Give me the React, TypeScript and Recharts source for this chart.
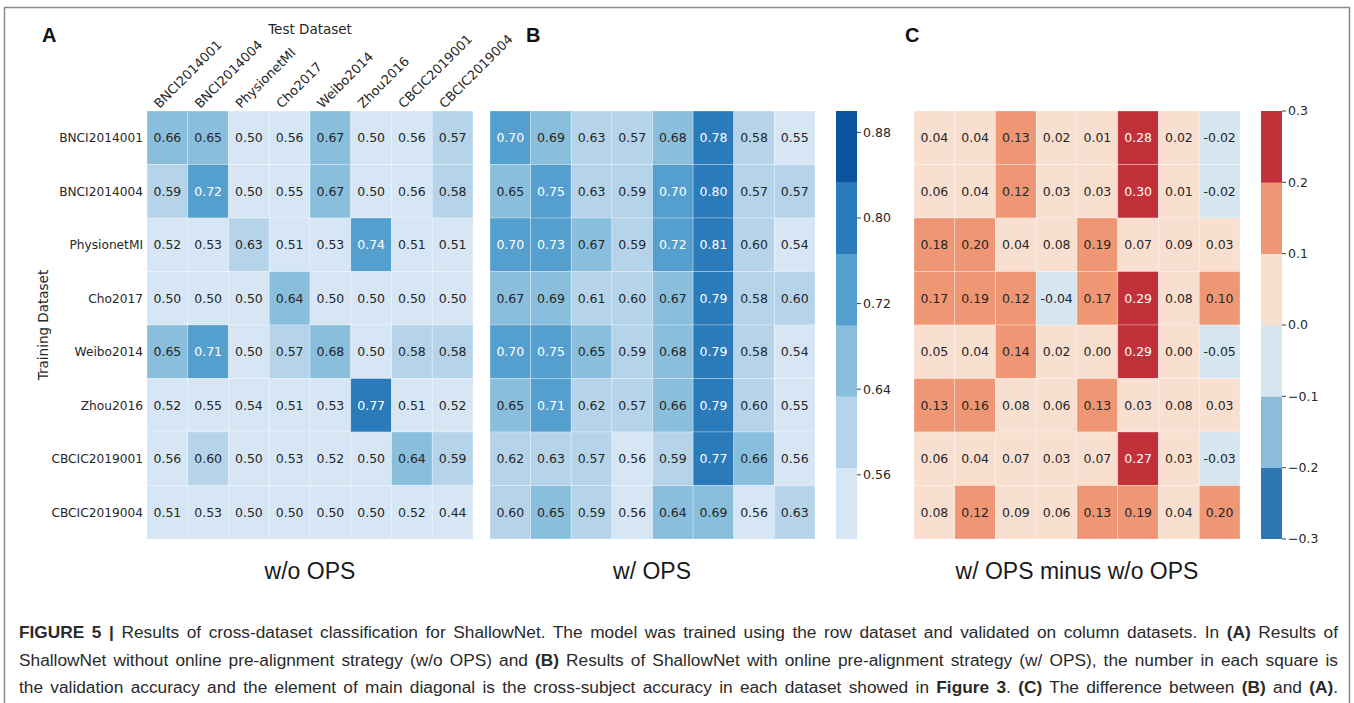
import React from 'react';
import { ScatterChart, Scatter, XAxis, YAxis } from 'recharts';

const datasets = ['BNCI2014001', 'BNCI2014004', 'PhysionetMI', 'Cho2017', 'Weibo2014', 'Zhou2016', 'CBCIC2019001', 'CBCIC2019004'];

const accWithoutOps = [
  [0.66, 0.65, 0.50, 0.56, 0.67, 0.50, 0.56, 0.57],
  [0.59, 0.72, 0.50, 0.55, 0.67, 0.50, 0.56, 0.58],
  [0.52, 0.53, 0.63, 0.51, 0.53, 0.74, 0.51, 0.51],
  [0.50, 0.50, 0.50, 0.64, 0.50, 0.50, 0.50, 0.50],
  [0.65, 0.71, 0.50, 0.57, 0.68, 0.50, 0.58, 0.58],
  [0.52, 0.55, 0.54, 0.51, 0.53, 0.77, 0.51, 0.52],
  [0.56, 0.60, 0.50, 0.53, 0.52, 0.50, 0.64, 0.59],
  [0.51, 0.53, 0.50, 0.50, 0.50, 0.50, 0.52, 0.44],
];

const accWithOps = [
  [0.70, 0.69, 0.63, 0.57, 0.68, 0.78, 0.58, 0.55],
  [0.65, 0.75, 0.63, 0.59, 0.70, 0.80, 0.57, 0.57],
  [0.70, 0.73, 0.67, 0.59, 0.72, 0.81, 0.60, 0.54],
  [0.67, 0.69, 0.61, 0.60, 0.67, 0.79, 0.58, 0.60],
  [0.70, 0.75, 0.65, 0.59, 0.68, 0.79, 0.58, 0.54],
  [0.65, 0.71, 0.62, 0.57, 0.66, 0.79, 0.60, 0.55],
  [0.62, 0.63, 0.57, 0.56, 0.59, 0.77, 0.66, 0.56],
  [0.60, 0.65, 0.59, 0.56, 0.64, 0.69, 0.56, 0.63],
];

const accDiff = [
  [0.04, 0.04, 0.13, 0.02, 0.01, 0.28, 0.02, -0.02],
  [0.06, 0.04, 0.12, 0.03, 0.03, 0.30, 0.01, -0.02],
  [0.18, 0.198, 0.04, 0.08, 0.19, 0.07, 0.09, 0.03],
  [0.17, 0.19, 0.12, -0.04, 0.17, 0.29, 0.08, 0.10],
  [0.05, 0.04, 0.14, 0.02, 0.00, 0.29, 0.00, -0.05],
  [0.13, 0.16, 0.08, 0.06, 0.13, 0.03, 0.08, 0.03],
  [0.06, 0.04, 0.07, 0.03, 0.07, 0.27, 0.03, -0.03],
  [0.08, 0.12, 0.09, 0.06, 0.13, 0.19, 0.04, 0.198],
];

const bluesBins = ['#d6e6f4', '#b5d4ea', '#89bedc', '#559fce', '#2b7ab9', '#0d53a0'];
const rdbuBins = ['#2e77b4', '#8bbcdb', '#d5e6f1', '#f8dfcf', '#ef9775', '#c2303a'];

const accRange = [0.5, 0.9];
const diffRange = [-0.3, 0.3];
const accTicks = [0.56, 0.64, 0.72, 0.80, 0.88];
const diffTicks = [-0.3, -0.2, -0.1, 0.0, 0.1, 0.2, 0.3];
const cellTicks = [0.5, 1.5, 2.5, 3.5, 4.5, 5.5, 6.5, 7.5];

const FONT = "'DejaVu Sans', sans-serif";
const SANS = "'Liberation Sans', Arial, sans-serif";
const DARK = '#262626';

function binIndex(v: number, range: number[], n: number) {
  const i = Math.floor(((v - range[0]) / (range[1] - range[0])) * n + 1e-9);
  return Math.max(0, Math.min(n - 1, i));
}

function lum(hex: string) {
  const c = [1, 3, 5].map((k) => parseInt(hex.slice(k, k + 2), 16) / 255);
  const l = c.map((x) => (x <= 0.03928 ? x / 12.92 : Math.pow((x + 0.055) / 1.055, 2.4)));
  return 0.2126 * l[0] + 0.7152 * l[1] + 0.0722 * l[2];
}

function toPoints(m: number[][]) {
  return m.flatMap((row, r) => row.map((v, c) => ({ x: c + 0.5, y: r + 0.5, v })));
}

type Margin = { top: number; right: number; bottom: number; left: number };

function Heatmap(props: {
  matrix: number[][];
  colors: string[];
  range: number[];
  width: number;
  height: number;
  margin: Margin;
  axes?: boolean;
}) {
  const { matrix, colors, range, width, height, margin, axes } = props;
  const yW = axes ? 130 : 0;
  const xH = axes ? 80 : 0;
  const plotW = width - margin.left - margin.right - yW;
  const plotH = height - margin.top - margin.bottom - xH;
  const cw = plotW / matrix[0].length;
  const ch = plotH / matrix.length;
  const data = toPoints(matrix);
  const shape = (p: any) => {
    const { cx, cy, payload } = p;
    const fill = colors[binIndex(payload.v, range, colors.length)];
    const tc = lum(fill) < 0.408 ? '#ffffff' : DARK;
    return (
      <g>
        <rect x={cx - cw / 2} y={cy - ch / 2} width={cw} height={ch} fill={fill} stroke="rgba(255,255,255,0.35)" strokeWidth={0.8} />
        <text x={cx} y={cy} dy="0.36em" textAnchor="middle" fontSize={12.5} fontFamily={FONT} fill={tc}>
          {payload.v.toFixed(2)}
        </text>
      </g>
    );
  };
  const topTick = (p: any) => {
    const { x, y, payload } = p;
    const tx = x - 8;
    const ty = y - 2;
    return (
      <text x={tx} y={ty} transform={`rotate(-45 ${tx} ${ty})`} fontSize={13} fontFamily={FONT} fill={DARK}>
        {datasets[Math.floor(payload.value)]}
      </text>
    );
  };
  const leftTick = (p: any) => {
    const { x, y, payload } = p;
    return (
      <text x={x} y={y} dy="0.36em" textAnchor="end" fontSize={12.2} fontFamily={FONT} fill={DARK}>
        {datasets[Math.floor(payload.value)]}
      </text>
    );
  };
  return (
    <ScatterChart width={width} height={height} margin={margin}>
      <XAxis
        type="number"
        dataKey="x"
        domain={[0, matrix[0].length]}
        ticks={cellTicks}
        interval={0}
        orientation="top"
        hide={!axes}
        height={xH}
        axisLine={false}
        tickLine={false}
        tickSize={0}
        tickMargin={0}
        tick={topTick}
      />
      <YAxis
        type="number"
        dataKey="y"
        domain={[0, matrix.length]}
        ticks={cellTicks}
        interval={0}
        reversed
        hide={!axes}
        width={yW}
        axisLine={false}
        tickLine={false}
        tickSize={0}
        tickMargin={4}
        tick={leftTick}
      />
      <Scatter data={data} isAnimationActive={false} shape={shape} />
    </ScatterChart>
  );
}

function Colorbar(props: {
  colors: string[];
  range: number[];
  ticks: number[];
  fmt: (v: number) => string;
  width: number;
  height: number;
  margin: Margin;
}) {
  const { colors, range, ticks, fmt, width, height, margin } = props;
  const axisW = 60;
  const plotW = width - margin.left - margin.right - axisW;
  const plotH = height - margin.top - margin.bottom;
  const n = colors.length;
  const step = (range[1] - range[0]) / n;
  const bh = plotH / n;
  const data = colors.map((c, i) => ({ x: 0.5, y: range[0] + (i + 0.5) * step, c }));
  const shape = (p: any) => {
    const { cx, cy, payload } = p;
    return <rect x={cx - plotW / 2} y={cy - bh / 2} width={plotW} height={bh + 0.3} fill={payload.c} />;
  };
  return (
    <ScatterChart width={width} height={height} margin={margin}>
      <XAxis type="number" dataKey="x" domain={[0, 1]} hide />
      <YAxis
        type="number"
        dataKey="y"
        orientation="right"
        domain={range}
        ticks={ticks}
        interval={0}
        width={axisW}
        axisLine={false}
        tickLine={{ stroke: '#444' }}
        tickSize={4}
        tickMargin={2}
        tickFormatter={fmt}
        tick={{ fontSize: 12.5, fontFamily: FONT, fill: DARK }}
        allowDataOverflow
      />
      <Scatter data={data} isAnimationActive={false} shape={shape} />
    </ScatterChart>
  );
}

const captionLines: { t: string; b?: boolean }[][] = [
  [
    { t: 'FIGURE 5 |', b: true },
    { t: ' Results of cross-dataset classification for ShallowNet. The model was trained using the row dataset and validated on column datasets. In ' },
    { t: '(A)', b: true },
    { t: ' Results of' },
  ],
  [
    { t: 'ShallowNet without online pre-alignment strategy (w/o OPS) and ' },
    { t: '(B)', b: true },
    { t: ' Results of ShallowNet with online pre-alignment strategy (w/ OPS), the number in each square is' },
  ],
  [
    { t: 'the validation accuracy and the element of main diagonal is the cross-subject accuracy in each dataset showed in ' },
    { t: 'Figure 3', b: true },
    { t: '. ' },
    { t: '(C)', b: true },
    { t: ' The difference between ' },
    { t: '(B)', b: true },
    { t: ' and ' },
    { t: '(A)', b: true },
    { t: '.' },
  ],
];

const fmtAcc = (v: number) => v.toFixed(2);
const fmtDiff = (v: number) => (v < -1e-9 ? '\u2212' + Math.abs(v).toFixed(1) : Math.abs(v).toFixed(1));

export default function App() {
  const H = 560;
  return (
    <div style={{ position: 'absolute', left: 0, top: 0, width: 1354, height: 703, background: '#fff', overflow: 'hidden' }}>
      <div style={{ position: 'absolute', left: 0, top: 0 }}>
        <Heatmap matrix={accWithoutOps} colors={bluesBins} range={accRange} width={560} height={H} margin={{ top: 31, right: 87, bottom: 21, left: 17 }} axes />
      </div>
      <div style={{ position: 'absolute', left: 480, top: 0 }}>
        <Heatmap matrix={accWithOps} colors={bluesBins} range={accRange} width={340} height={H} margin={{ top: 111, right: 5, bottom: 21, left: 10 }} />
      </div>
      <div style={{ position: 'absolute', left: 820, top: 0 }}>
        <Colorbar colors={bluesBins} range={accRange} ticks={accTicks} fmt={fmtAcc} width={100} height={H} margin={{ top: 111, right: 3, bottom: 21, left: 16 }} />
      </div>
      <div style={{ position: 'absolute', left: 900, top: 0 }}>
        <Heatmap matrix={accDiff} colors={rdbuBins} range={diffRange} width={345} height={H} margin={{ top: 111, right: 5, bottom: 21, left: 14 }} />
      </div>
      <div style={{ position: 'absolute', left: 1245, top: 0 }}>
        <Colorbar colors={rdbuBins} range={diffRange} ticks={diffTicks} fmt={fmtDiff} width={100} height={H} margin={{ top: 111, right: 3, bottom: 21, left: 16 }} />
      </div>
      <svg width={1354} height={703} style={{ position: 'absolute', left: 0, top: 0, pointerEvents: 'none' }}>
        <rect x={4.5} y={7.5} width={1345} height={710} fill="none" stroke="#8a8a8a" strokeWidth={1.5} />
        <text x={42} y={42} fontSize={20} fontWeight="bold" fontFamily={SANS} fill="#111">A</text>
        <text x={526} y={42} fontSize={20} fontWeight="bold" fontFamily={SANS} fill="#111">B</text>
        <text x={905} y={42} fontSize={20} fontWeight="bold" fontFamily={SANS} fill="#111">C</text>
        <text x={310} y={34} textAnchor="middle" fontSize={13.5} fontFamily={FONT} fill={DARK}>Test Dataset</text>
        <text x={48} y={325} textAnchor="middle" transform="rotate(-90 48 325)" fontSize={13.5} fontFamily={FONT} fill={DARK}>Training Dataset</text>
        <text x={310} y={579} textAnchor="middle" fontSize={23} fontFamily={SANS} fill="#1a1a1a">w/o OPS</text>
        <text x={652} y={579} textAnchor="middle" fontSize={23} fontFamily={SANS} fill="#1a1a1a">w/ OPS</text>
        <text x={1077} y={579} textAnchor="middle" fontSize={23} fontFamily={SANS} fill="#1a1a1a">w/ OPS minus w/o OPS</text>
      </svg>
      <div style={{ position: 'absolute', left: 19, top: 619, width: 1319, fontFamily: SANS, fontSize: 17.3, lineHeight: '27.5px', color: '#2a2a2a' }}>
        {captionLines.map((line, i) => (
          <div key={i} style={{ textAlign: 'justify', textAlignLast: 'justify' as any }}>
            {line.map((s, j) => (
              <span key={j} style={{ fontWeight: s.b ? 'bold' : 'normal' }}>{s.t}</span>
            ))}
          </div>
        ))}
      </div>
    </div>
  );
}
